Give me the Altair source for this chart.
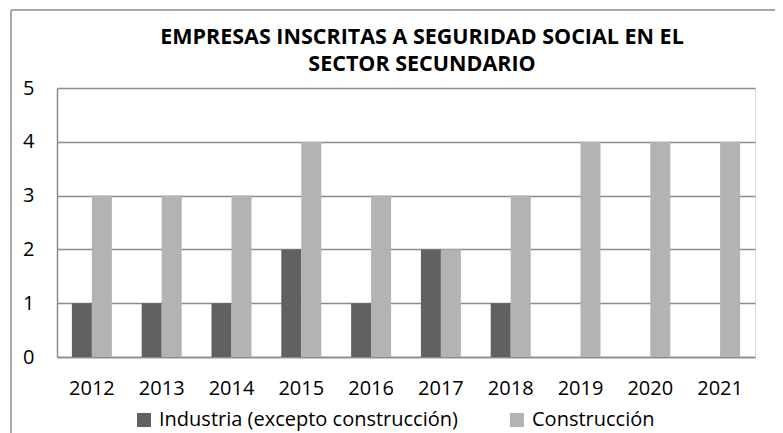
import altair as alt
import pandas as pd

years = ["2012", "2013", "2014", "2015", "2016", "2017", "2018", "2019", "2020", "2021"]
industria = [1, 1, 1, 2, 1, 2, 1, 0, 0, 0]
construccion = [3, 3, 3, 4, 3, 2, 3, 4, 4, 4]
series = ["Industria (excepto construcción)", "Construcción"]
colors = ["#616161", "#b3b3b3"]
title_lines = ["EMPRESAS INSCRITAS A SEGURIDAD SOCIAL EN EL", "SECTOR SECUNDARIO"]

rows = []
for y, a, b in zip(years, industria, construccion):
    rows.append({"year": y, "serie": series[0], "value": a})
    rows.append({"year": y, "serie": series[1], "value": b})
df = pd.DataFrame(rows)

FONT = "Open Sans"
GRID = "#8c8c8c"

bars = alt.Chart(df).mark_bar(strokeWidth=0).encode(
    x=alt.X("year:N", sort=years,
            scale=alt.Scale(paddingInner=0.427, paddingOuter=0.2135),
            axis=alt.Axis(title=None, labelAngle=0, ticks=False, domain=True,
                          domainColor=GRID, domainWidth=1.5, labelPadding=21,
                          labelFont=FONT, labelFontSize=20, labelColor="black")),
    xOffset=alt.XOffset("serie:N", sort=series,
                        scale=alt.Scale(paddingInner=0, paddingOuter=0)),
    y=alt.Y("value:Q", scale=alt.Scale(domain=[0, 5]),
            axis=alt.Axis(title=None, values=[0, 1, 2, 3, 4, 5], ticks=False,
                          domain=True, domainColor=GRID, domainWidth=1.5,
                          grid=True, gridColor=GRID, gridWidth=1.5,
                          labelPadding=23, labelFont=FONT, labelFontSize=20,
                          labelColor="black")),
    color=alt.Color("serie:N", sort=series,
                    scale=alt.Scale(domain=series, range=colors),
                    legend=alt.Legend(title=None, orient="none", legendX=77, legendY=322,
                                      direction="horizontal", symbolType="square",
                                      symbolSize=196, symbolStrokeWidth=0, labelLimit=500,
                                      labelFont=FONT, labelFontSize=20, labelColor="black",
                                      labelOffset=5, columnPadding=49, padding=0)),
)

title = alt.Chart(alt.Data(values=[{"t": title_lines}])).mark_text(
    font=FONT, fontSize=21.5, fontWeight="bold", color="black", align="center",
    baseline="alphabetic", lineHeight=27).encode(
    text="t:N", x=alt.value(365), y=alt.value(-44))

frame_left = alt.Chart(alt.Data(values=[{}])).mark_rule(color=GRID, strokeWidth=1.5).encode(
    x=alt.value(-46), y=alt.value(-78), y2=alt.value(360))
frame_top = alt.Chart(alt.Data(values=[{}])).mark_rule(color=GRID, strokeWidth=1.5).encode(
    x=alt.value(-46), x2=alt.value(740), y=alt.value(-78))

chart = alt.layer(frame_left, frame_top, title, bars).properties(
    width=698, height=269,
    padding={"left": 49, "top": 80, "right": 20, "bottom": 76},
    autosize=alt.AutoSizeParams(type="none"),
).configure_view(stroke=None).configure(background="white")

chart.save("out.html", embed_options={"renderer": "svg", "actions": False})
